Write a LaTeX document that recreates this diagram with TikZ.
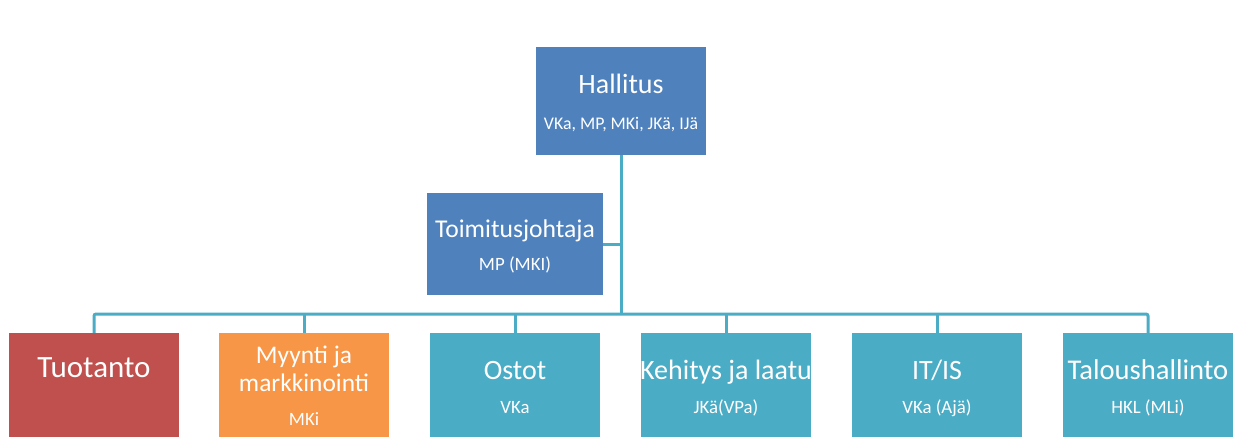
\documentclass[tikz,border=0pt]{standalone}
\usepackage{fontspec}
\setmainfont{Carlito}
\definecolor{cblue}{HTML}{4F81BD}
\definecolor{cred}{HTML}{C0504D}
\definecolor{corange}{HTML}{F79646}
\definecolor{cteal}{HTML}{4BACC6}
\tikzset{
  box/.style={draw=none, minimum width=170pt, minimum height=104pt, inner sep=0pt},
  title/.style={text=white, anchor=base, inner sep=0pt, font=\fontsize{28}{32}\selectfont},
  sub/.style={text=white, anchor=base, inner sep=0pt, font=\fontsize{18.8}{22}\selectfont},
  conn/.style={draw=cteal, line width=3pt, rounded corners=2pt}
}
\begin{document}
\begin{tikzpicture}[x=1pt,y=-1pt]
\useasboundingbox[fill=white] (0,0) rectangle (1239,437);
% top boxes
\node[box, fill=cblue, minimum height=108pt] (hall) at (621,101) {};
\node[box, fill=cblue, minimum width=176pt, minimum height=102pt] (toim) at (515,244) {};
% bottom boxes
\node[box, fill=cred] (tuo) at (94,385) {};
\node[box, fill=corange] (myy) at (304,385) {};
\node[box, fill=cteal] (ost) at (515,385) {};
\node[box, fill=cteal] (keh) at (726,385) {};
\node[box, fill=cteal] (it) at (937,385) {};
\node[box, fill=cteal] (tal) at (1148,385) {};
% connectors
\coordinate (bus) at (621,314);
\coordinate (tj) at (621,244);
\draw[conn] (hall.south) -- (bus);
\draw[conn] (toim.east) -- (tj);
\draw[conn] (tuo.north) |- (bus) -| (tal.north);
\draw[conn] (myy.north) -- (myy.north |- bus);
\draw[conn] (ost.north) -- (ost.north |- bus);
\draw[conn] (keh.north) -- (keh.north |- bus);
\draw[conn] (it.north) -- (it.north |- bus);
% texts
\node[title] (hallT) at (621,93) {Hallitus};
\node[sub, font=\fontsize{17.8}{21}\selectfont] (hallS) at (621,129) {VKa, MP, MKi, JKä, IJä};
\node[title, font=\fontsize{25.6}{30}\selectfont] (toimT) at (515,237) {Toimitusjohtaja};
\node[sub] (toimS) at (515,270) {MP (MKI)};
\node[title, font=\fontsize{31}{36}\selectfont] (tuoT) at (94,377) {Tuotanto};
\node[title, font=\fontsize{25.4}{30}\selectfont] (myyT1) at (304,363) {Myynti ja};
\node[title, font=\fontsize{25.4}{30}\selectfont] (myyT2) at (304,391) {markkinointi};
\node[sub] (myyS) at (304,425) {MKi};
\node[title] (ostT) at (515,379) {Ostot};
\node[sub] (ostS) at (515,413) {VKa};
\node[title] (kehT) at (726,379) {Kehitys ja laatu};
\node[sub] (kehS) at (726,413) {JKä(VPa)};
\node[title] (itT) at (937,379) {IT/IS};
\node[sub] (itS) at (937,413) {VKa (Ajä)};
\node[title, font=\fontsize{28.6}{32}\selectfont] (talT) at (1148,379) {Taloushallinto};
\node[sub] (talS) at (1148,413) {HKL (MLi)};
\end{tikzpicture}
\end{document}
